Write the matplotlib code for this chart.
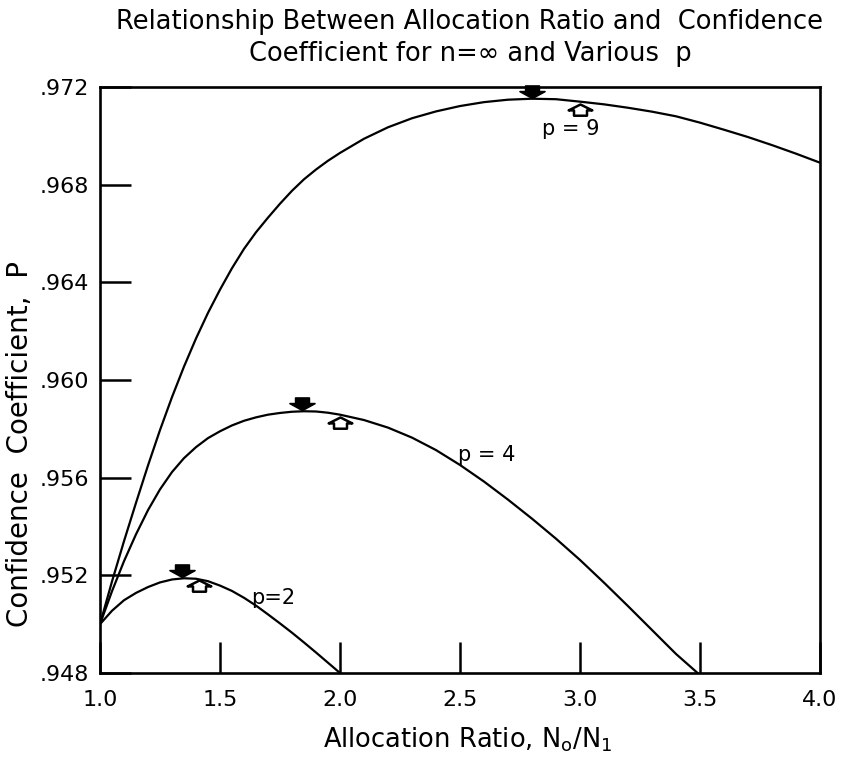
import matplotlib
matplotlib.use("Agg")
import matplotlib.pyplot as plt
from matplotlib.path import Path

# ---- data ----
x_p2 = [1.0, 1.05, 1.1, 1.15, 1.2, 1.25, 1.3, 1.35, 1.4, 1.45, 1.5, 1.55, 1.6,
        1.65, 1.7, 1.75, 1.8, 1.85, 1.9, 1.95, 2.0]
y_p2 = [.9500, .95055, .95098, .95128, .95152, .95171, .95183, .95188, .95186,
        .95176, .95158, .95136, .95108, .95076, .95040, .95003, .94965, .94925,
        .94884, .94842, .94800]

x_p4 = [1.0, 1.05, 1.1, 1.15, 1.2, 1.25, 1.3, 1.35, 1.4, 1.45, 1.5, 1.55, 1.6,
        1.65, 1.7, 1.75, 1.8, 1.85, 1.9, 1.95, 2.0, 2.1, 2.2, 2.3, 2.4, 2.5,
        2.6, 2.7, 2.8, 2.9, 3.0, 3.1, 3.2, 3.3, 3.4, 3.49]
y_p4 = [.9500, .95135, .95258, .95368, .95467, .95552, .95623, .95680, .95725,
        .95762, .95790, .95814, .95833, .95847, .95858, .95865, .95870, .95872,
        .95871, .95866, .95858, .95836, .95805, .95764, .95713, .95652, .95584,
        .95510, .95432, .95350, .95263, .95170, .95074, .94976, .94878, .94800]

x_p9 = [1.0, 1.05, 1.1, 1.15, 1.2, 1.25, 1.3, 1.35, 1.4, 1.45, 1.5, 1.55, 1.6,
        1.65, 1.7, 1.75, 1.8, 1.85, 1.9, 1.95, 2.0, 2.1, 2.2, 2.3, 2.4, 2.5,
        2.6, 2.7, 2.8, 2.9, 3.0, 3.1, 3.2, 3.3, 3.4, 3.5, 3.6, 3.7, 3.8, 3.9,
        4.0]
y_p9 = [.9500, .95175, .95340, .95497, .95650, .95795, .95930, .96055, .96170,
        .96275, .96370, .96458, .96537, .96605, .96665, .96722, .96775, .96822,
        .96862, .96898, .96930, .96988, .97035, .97072, .97100, .97122, .97138,
        .97148, .97152, .97150, .97140, .97129, .97115, .97099, .97080, .97054,
        .97025, .96995, .96962, .96927, .96890]

# optimum (filled) and sqrt(p) (open) markers
opt_x = [1.34, 1.84, 2.80]
opt_y = [.95192, .95876, .97156]
sq_x = [1.414, 2.0, 3.0]
sq_y = [.95180, .95848, .97132]

labels = ["p=2", "p = 4", "p = 9"]
label_x = [1.72, 2.61, 2.96]
label_y = [.95108, .95692, .97027]

x_ticks = [1.0, 1.5, 2.0, 2.5, 3.0, 3.5, 4.0]
x_tick_labels = ["1.0", "1.5", "2.0", "2.5", "3.0", "3.5", "4.0"]
y_ticks = [.948, .952, .956, .960, .964, .968, .972]
y_tick_labels = [".948", ".952", ".956", ".960", ".964", ".968", ".972"]

# ---- figure ----
W, H = 843, 757
fig = plt.figure(figsize=(W / 100, H / 100), dpi=100)
ax = fig.add_axes([100 / W, 1 - 673 / H, 720 / W, (673 - 87) / H])

for xs, ys in [(x_p2, y_p2), (x_p4, y_p4), (x_p9, y_p9)]:
    ax.plot(xs, ys, color="black", lw=1.6, solid_capstyle="round",
            solid_joinstyle="round")

# custom arrow markers (origin at the tip)
down_arrow = Path([(0, 0), (-1, 0.55), (-0.55, 0.55), (-0.55, 1.0), (0.55, 1.0),
                   (0.55, 0.55), (1, 0.55), (0, 0)],
                  [Path.MOVETO] + [Path.LINETO] * 6 + [Path.CLOSEPOLY])
up_arrow = Path([(0, 0), (-1, -0.5), (-0.55, -0.5), (-0.55, -0.95), (0.55, -0.95),
                 (0.55, -0.5), (1, -0.5), (0, 0)],
                [Path.MOVETO] + [Path.LINETO] * 6 + [Path.CLOSEPOLY])

ax.plot(opt_x, opt_y, ls="none", marker=down_arrow, ms=18, mfc="black",
        mec="black", mew=1.2, clip_on=False, zorder=4)
ax.plot(sq_x, sq_y, ls="none", marker=up_arrow, ms=17, mfc="white",
        mec="black", mew=1.8, clip_on=False, zorder=4)

for t, lx, ly in zip(labels, label_x, label_y):
    ax.text(lx, ly, t, ha="center", va="center", fontsize=15)

ax.set_xlim(1.0, 4.0)
ax.set_ylim(.948, .972)
ax.set_xticks(x_ticks)
ax.set_xticklabels(x_tick_labels)
ax.set_yticks(y_ticks)
ax.set_yticklabels(y_tick_labels)
ax.tick_params(direction="in", length=22, width=1.8, labelsize=16)
ax.tick_params(axis="x", pad=12)
ax.tick_params(axis="y", pad=8)
for s in ax.spines.values():
    s.set_linewidth(1.9)

fig.text(470 / W, 1 - 9 / H,
         "Relationship Between Allocation Ratio and  Confidence\n"
         "Coefficient for n=\u221e and Various  p",
         ha="center", va="top", fontsize=18.5, linespacing=1.32)
fig.text(468 / W, 1 - 740 / H,
         r"Allocation Ratio, N$_\mathregular{o}$/N$_\mathregular{1}$",
         ha="center", va="center", fontsize=18.5)
fig.text(20 / W, 1 - 444 / H, "Confidence  Coefficient,  P", rotation=90,
         ha="center", va="center", fontsize=20)

fig.savefig("out.png", dpi=100, facecolor="white")
